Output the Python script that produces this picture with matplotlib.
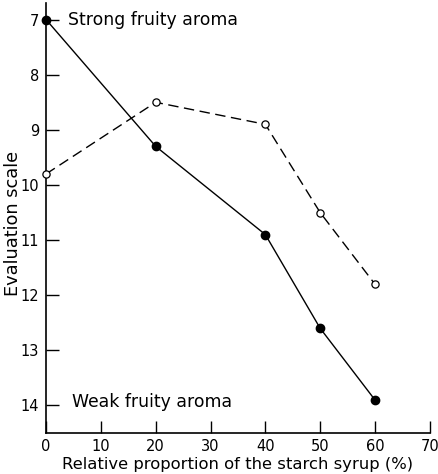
import matplotlib
matplotlib.use('Agg')
import matplotlib.pyplot as plt

# ── data ──
syrup_pct = [0, 20, 40, 50, 60]
solid_scores = [7.0, 9.3, 10.9, 12.6, 13.9]
dashed_scores = [9.8, 8.5, 8.9, 10.5, 11.8]

x_ticks = [10, 20, 30, 40, 50, 60, 70]
y_ticks = [7, 8, 9, 10, 11, 12, 13, 14]

plt.rcParams['font.family'] = 'DejaVu Sans'

fig = plt.figure(figsize=(4.39, 4.74), dpi=100)
ax = fig.add_axes([0.105, 0.0865, 0.874, 0.907])

ax.plot(syrup_pct, solid_scores, '-', color='black', lw=1.0,
        marker='o', ms=6, mfc='black', mec='black', clip_on=False, zorder=3)
ax.plot(syrup_pct, dashed_scores, color='black', lw=1.0, dashes=(7.5, 4),
        marker='o', ms=5.2, mfc='white', mec='black', mew=0.9,
        clip_on=False, zorder=3)

ax.set_xlim(0, 70)
ax.set_ylim(14.5, 6.7)

ax.set_xticks([0] + x_ticks)
ax.set_yticks(y_ticks)
ax.tick_params(axis='both', direction='in', length=9, width=1.0,
               labelsize=10.5, pad=4)
ax.tick_params(axis='y', pad=5)

for side in ['top', 'right']:
    ax.spines[side].set_visible(False)
for side in ['left', 'bottom']:
    ax.spines[side].set_linewidth(1.2)

ax.text(4.0, 7.0, 'Strong fruity aroma', fontsize=12.4, va='center', ha='left')
ax.text(4.7, 13.93, 'Weak fruity aroma', fontsize=12.4, va='center', ha='left')

ax.set_xlabel('Relative proportion of the starch syrup (%)', fontsize=11.8,
              va='bottom')
ax.xaxis.set_label_coords(0.5, -0.0905)
ax.set_ylabel('Evaluation scale', fontsize=12.8)
ax.yaxis.set_label_coords(-0.062, 0.488)

fig.savefig('out.png', dpi=100)
